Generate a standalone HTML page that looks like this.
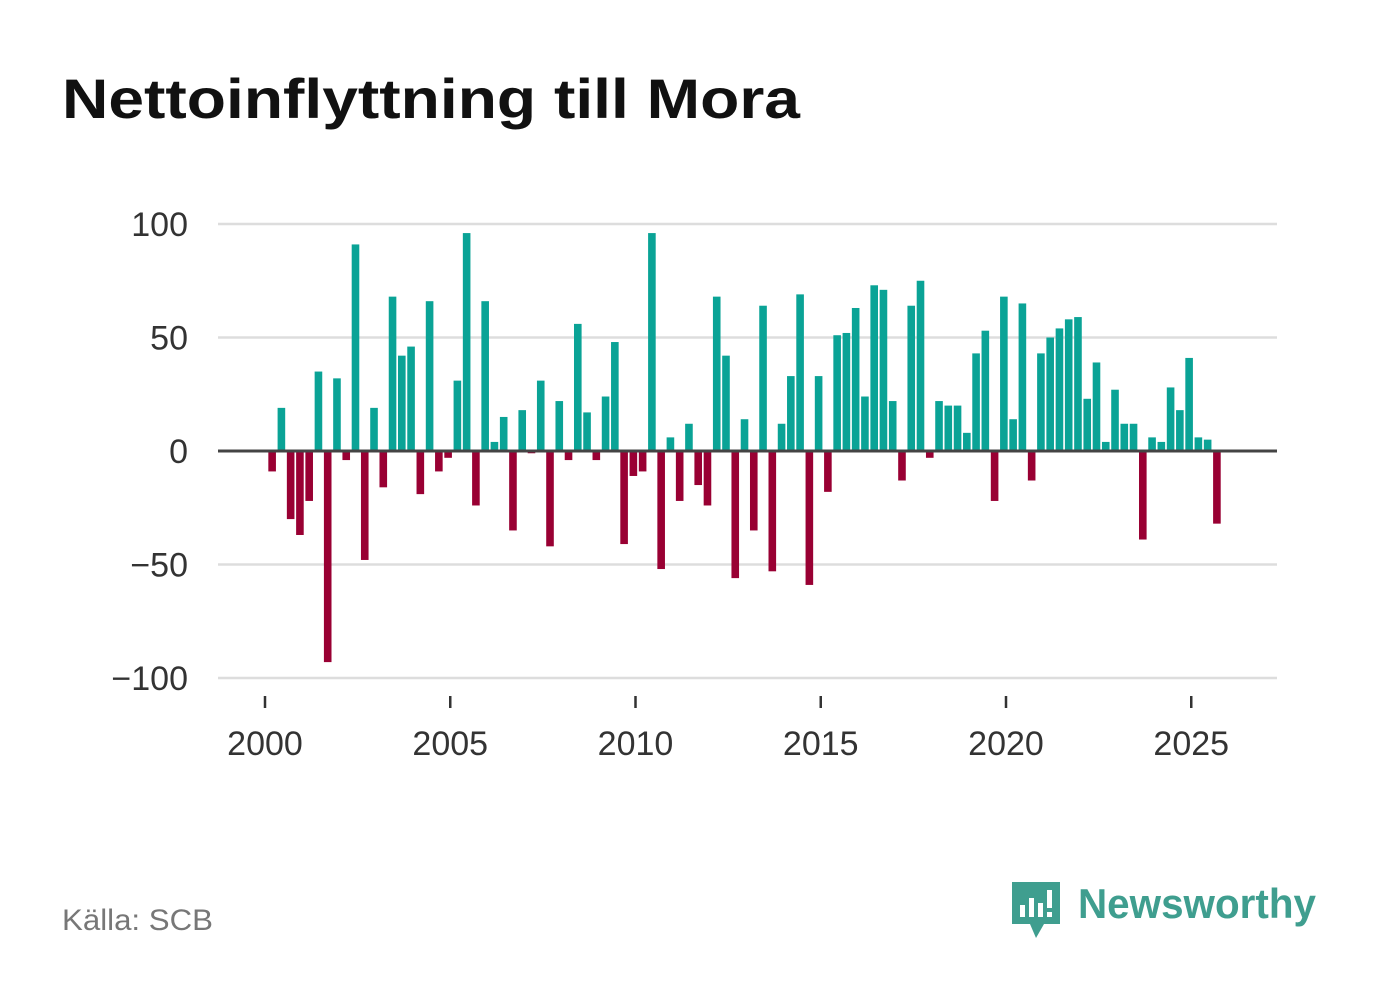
<!DOCTYPE html>
<html><head><meta charset="utf-8">
<style>
body{margin:0;background:#fff;width:1382px;height:999px;overflow:hidden;font-family:"Liberation Sans",sans-serif}
</style></head>
<body>
<svg id="chart" width="1382" height="999" xmlns="http://www.w3.org/2000/svg">
<text x="62" y="118" font-size="56" font-weight="bold" fill="#111" textLength="738" lengthAdjust="spacingAndGlyphs">Nettoinflyttning till Mora</text>
<g id="grid"></g>
<g id="bars"></g>
<g id="xaxis"></g>
<text x="62" y="930" font-size="30" fill="#777" textLength="151" lengthAdjust="spacingAndGlyphs">Källa: SCB</text>
<g>
<path d="M1012 882 h48 v42 h-16 l-8 14 l-6 -14 h-18 z" fill="#3f9e8f"/>
<rect x="1020" y="905" width="5" height="12" fill="#fff"/>
<rect x="1029" y="898" width="5" height="19" fill="#fff"/>
<rect x="1038" y="903" width="5" height="14" fill="#fff"/>
<rect x="1047" y="890" width="5" height="18" fill="#fff"/>
<rect x="1047" y="912" width="5" height="5" fill="#fff"/>
<text x="1078" y="918" font-size="42" font-weight="bold" fill="#3f9e8f" textLength="238" lengthAdjust="spacingAndGlyphs">Newsworthy</text>
</g>
</svg>
<script>
const values=[-9,19,-30,-37,-22,35,-93,32,-4,91,-48,19,-16,68,42,46,-19,66,-9,-3,31,96,-24,66,4,15,-35,18,-1,31,-42,22,-4,56,17,-4,24,48,-41,-11,-9,96,-52,6,-22,12,-15,-24,68,42,-56,14,-35,64,-53,12,33,69,-59,33,-18,51,52,63,24,73,71,22,-13,64,75,-3,22,20,20,8,43,53,-22,68,14,65,-13,43,50,54,58,59,23,39,4,27,12,12,-39,6,4,28,18,41,6,5,-32];
const startYear=2000;
const yTicks=[100,50,0,-50,-100];
const yTickLabels=["100","50","0","−50","−100"];
const xTicks=[2000,2005,2010,2015,2020,2025];
const NS="http://www.w3.org/2000/svg";
function y(v){return 451-v*2.27;}
function x(t){return 265+(t-2000)*37.05;}
function mk(tag,attrs,parent){const e=document.createElementNS(NS,tag);for(const k in attrs)e.setAttribute(k,attrs[k]);parent.appendChild(e);return e;}
const grid=document.getElementById('grid'),bars=document.getElementById('bars'),xa=document.getElementById('xaxis');
yTicks.forEach((t,i)=>{
 const l=mk('line',{x1:218,x2:1277,y1:y(t),y2:y(t),stroke:t===0?'#444':'#ddd','stroke-width':t===0?3:2.5},t===0?xa:grid);
 
 
 const tx=mk('text',{x:188,y:y(t)+12,'text-anchor':'end','font-size':34,fill:'#333'},grid);
 tx.textContent=yTickLabels[i];
 
 
});
values.forEach((v,i)=>{
 const cx=x(startYear+(i+0.5)/4)+2.5;
 const r=mk('rect',{x:cx-3.8,width:7.6,y:Math.min(y(v),y(0)),height:Math.abs(y(v)-y(0)),fill:v>=0?'#0aa396':'#990033'},bars);
 
 
});
xTicks.forEach(t=>{
 const l=mk('line',{x1:x(t),x2:x(t),y1:696,y2:708,stroke:'#333','stroke-width':2.5},xa);
 
 
 const tx=mk('text',{x:x(t),y:755,'text-anchor':'middle','font-size':34,fill:'#333'},xa);
 tx.textContent=t;
 
 
});
</script>
</body></html>
